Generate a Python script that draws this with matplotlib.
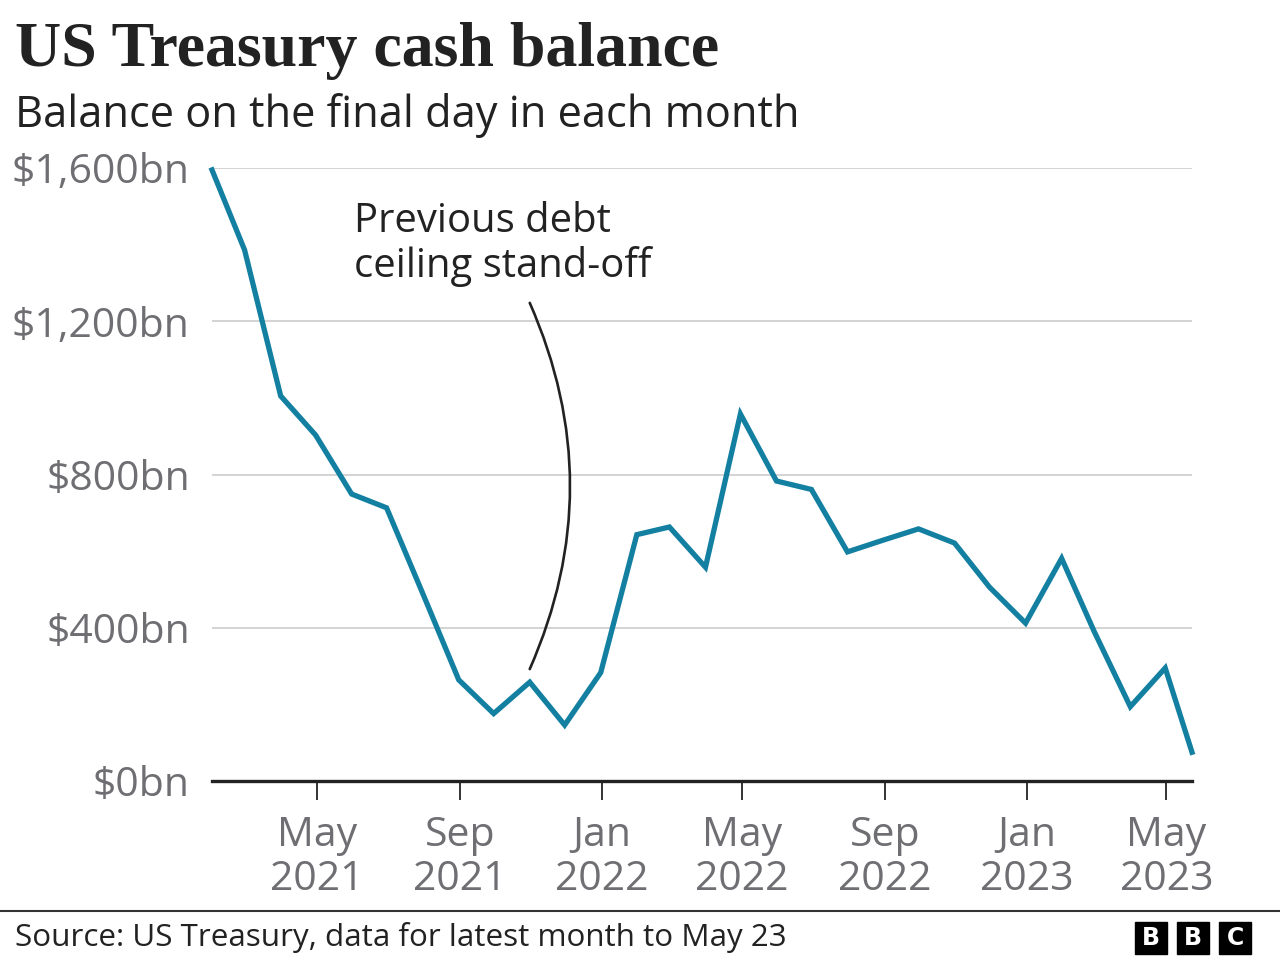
import datetime as dt
import matplotlib
matplotlib.use("Agg")
import matplotlib.pyplot as plt
from matplotlib.patches import Rectangle
from matplotlib.lines import Line2D

# Balance on the final day of each month ($bn), last point to 23 May 2023
dates = [
    "2021-01-31", "2021-02-28", "2021-03-31", "2021-04-30", "2021-05-31", "2021-06-30",
    "2021-07-31", "2021-08-31", "2021-09-30", "2021-10-31", "2021-11-30", "2021-12-31",
    "2022-01-31", "2022-02-28", "2022-03-31", "2022-04-30", "2022-05-31", "2022-06-30",
    "2022-07-31", "2022-08-31", "2022-09-30", "2022-10-31", "2022-11-30", "2022-12-31",
    "2023-01-31", "2023-02-28", "2023-03-31", "2023-04-30", "2023-05-23",
]
balance = [
    1595, 1386, 1005, 903, 749, 713,
    490, 264, 176, 258, 146, 283,
    643, 663, 558, 958, 783, 761,
    598, 629, 658, 621, 506, 412,
    581, 390, 194, 295, 75,
]
tick_dates = ["2021-05-01", "2021-09-01", "2022-01-01", "2022-05-01",
              "2022-09-01", "2023-01-01", "2023-05-01"]
tick_labels = ["May\n2021", "Sep\n2021", "Jan\n2022", "May\n2022",
               "Sep\n2022", "Jan\n2023", "May\n2023"]
y_ticks = [0, 400, 800, 1200, 1600]
y_labels = ["$0bn", "$400bn", "$800bn", "$1,200bn", "$1,600bn"]

x = [dt.datetime.strptime(d, "%Y-%m-%d") for d in dates]
xt = [dt.datetime.strptime(d, "%Y-%m-%d") for d in tick_dates]

sans = ["Open Sans", "DejaVu Sans"]
W, H = 1280, 960
fig = plt.figure(figsize=(12.8, 9.6), dpi=100)
ax = fig.add_axes([212 / W, 1 - 781 / H, 980 / W, 613 / H])

ax.plot(x, balance, color="#1380A1", lw=3.8, solid_joinstyle="miter", clip_on=False, zorder=3)

ax.set_xlim(x[0], x[-1])
ax.set_ylim(0, 1600)
ax.set_yticks(y_ticks)
ax.set_yticklabels(y_labels, family=sans, fontsize=29.5, color="#6e6e73")
ax.set_xticks(xt)
ax.set_xticklabels(tick_labels, family=sans, fontsize=29.5, color="#6e6e73", linespacing=1.1)
ax.tick_params(axis="y", length=0, pad=16)
ax.tick_params(axis="x", length=14, width=1.4, color="#333333", pad=11)
ax.grid(axis="y", color="#cccccc", lw=1.2)
ax.set_axisbelow(True)
for s in ["top", "right", "left"]:
    ax.spines[s].set_visible(False)
ax.spines["bottom"].set_color("#222222")
ax.spines["bottom"].set_linewidth(2.4)
ax.spines["bottom"].set_zorder(4)

# annotation
ann_x = dt.datetime(2021, 10, 31)
ax.annotate("", xy=(ann_x, 292), xytext=(ann_x, 1248),
            arrowprops=dict(arrowstyle="-", color="#222222", lw=1.9,
                            connectionstyle="arc3,rad=-0.22",
                            shrinkA=0, shrinkB=0))
fig.text(354 / W, 1 - 202 / H, "Previous debt\nceiling stand-off", family=sans,
         fontsize=28.8, color="#222222", va="top", ha="left", linespacing=1.1)

# titles
fig.text(15 / W, 1 - 66 / H, "US Treasury cash balance", family="Liberation Serif",
         fontweight="bold", fontsize=46, color="#222222", va="baseline")
fig.text(15 / W, 1 - 127 / H, "Balance on the final day in each month", family=sans,
         fontsize=31.2, color="#222222", va="baseline")

# footer
fig.add_artist(Line2D([0, 1], [1 - 911 / H, 1 - 911 / H], color="#333333", lw=1.5))
fig.text(15 / W, 1 - 946 / H, "Source: US Treasury, data for latest month to May 23",
         family=sans, fontsize=22.6, color="#222222", va="baseline")
for i, letter in enumerate("BBC"):
    x0 = 1135 + i * 42
    fig.add_artist(Rectangle((x0 / W, 1 - 954 / H), 32 / W, 32 / H,
                             color="black", transform=fig.transFigure))
    fig.text((x0 + 16) / W, 1 - 938 / H, letter, family="DejaVu Sans", fontweight="bold",
             fontsize=17, color="white", ha="center", va="center")

fig.savefig("out.png", dpi=100, facecolor="white")
